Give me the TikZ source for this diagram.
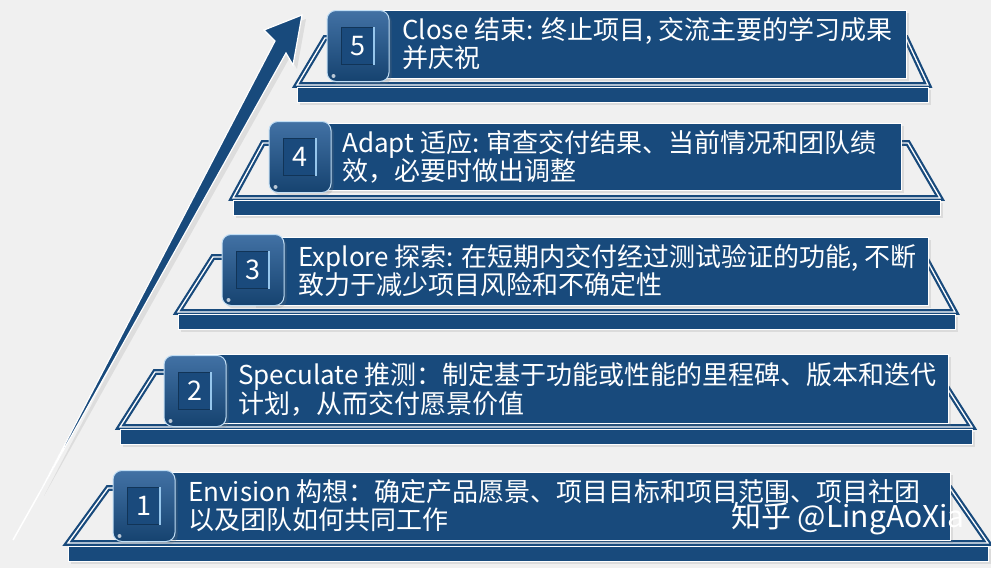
\documentclass[tikz,border=0pt]{standalone}
\usepackage{fontspec}
\setmainfont{Noto Sans CJK SC}
\usetikzlibrary{shadows}
\definecolor{agblue}{RGB}{24,74,124}
\definecolor{agbtn}{RGB}{40,94,152}
\definecolor{agbtnin}{RGB}{26,74,124}
\definecolor{aglight}{RGB}{150,198,236}
\definecolor{agbg}{RGB}{240,240,240}

\begin{document}
\begin{tikzpicture}
    [x=1pt,y=-1pt,
     textbox/.style={rectangle, fill=agblue, draw=white, line width=0.6pt, anchor=north west, inner sep=0pt,
       drop shadow={opacity=0.18}},
     stepbtn/.style={rectangle, rounded corners=9pt, draw=aglight!60!white, line width=1pt,
       top color=agbtn!88!white, bottom color=agblue!90!black, minimum width=62pt, minimum height=71pt, inner sep=0pt,
       drop shadow={opacity=0.2}},
     stepnum/.style={rectangle, fill=agbtnin, draw=agblue!70!black, line width=1pt,
       minimum width=33pt, minimum height=37pt, inner sep=0pt, text=white, font=\fontsize{27}{27}\selectfont},
     steptext/.style={anchor=west, align=left, text=white, inner sep=0pt, font=\fontsize{26}{28}\selectfont},
     framelines/.style={draw=agblue, double=white, double distance=1.3pt, line width=2.2pt, line join=miter},
     basebar/.style={fill=agblue, draw=white, line width=0.8pt, drop shadow={opacity=0.18}}]

    \fill[agbg] (0,0) rectangle (991,568);
    \useasboundingbox (0,0) rectangle (991,568);

    % arrow
    \fill[black, opacity=0.08] (44,496) -- (279,45) -- (268,34) -- (306,19) -- (297,69) -- (290,57) -- cycle;
    \draw[white, line width=1.5pt] (13,540) -- (40,492);
    \filldraw[fill=agblue, draw=white, line width=1.2pt, line join=miter]
      (40,492) -- (275,41) -- (264,30) -- (302,15) -- (293,65) -- (286,53) -- cycle;

    % frames
    \foreach \bl/\ltx/\lty/\rtx/\brx/\fb in {68/108/488/950/988/543, 120/155/372/937/972/427,
      178/213/257/925/955/312, 233/263/143/908/940/198, 297/325/38/906/928/85}
      \draw[framelines] (\bl,\fb) -- (\ltx,\lty) -- (\rtx,\lty) -- (\brx,\fb) -- cycle;

    % bars
    \foreach \bl/\br/\bt in {68/988/546, 120/972/429, 178/955/314, 233/940/200, 297/928/87}
      \draw[basebar] (\bl,\bt) rectangle (\br,\bt+15);

    \node[textbox, minimum width=806pt, minimum height=68pt] (box1) at (144,472) {};
    \node[textbox, minimum width=753pt, minimum height=69pt] (box2) at (195,354) {};
    \node[textbox, minimum width=675pt, minimum height=68pt] (box3) at (253,237) {};
    \node[textbox, minimum width=601pt, minimum height=67pt] (box4) at (300,123) {};
    \node[textbox, minimum width=548pt, minimum height=68pt] (box5) at (358,10) {};

    \node[stepbtn] (btn1) at (144,506) {};
    \node[stepbtn] (btn2) at (195,391) {};
    \node[stepbtn] (btn3) at (253,270) {};
    \node[stepbtn] (btn4) at (300,157) {};
    \node[stepbtn] (btn5) at (358,46) {};

    \foreach \n in {1,...,5}{
      \node[stepnum] (num\n) at (btn\n) {\n};
      \draw[aglight, line width=2pt] ([xshift=-1pt]num\n.north east) -- ([xshift=-1pt]num\n.south east);
      \fill[white, opacity=0.7] ([shift={(7pt,6pt)}]btn\n.south west) circle (2pt);
    }

    \node[steptext] (txt1) at (188,506) {Envision 构想：确定产品愿景、项目目标和项目范围、项目社团\\以及团队如何共同工作};
    \node[steptext] (txt2) at (238,389) {Speculate 推测：制定基于功能或性能的里程碑、版本和迭代\\计划，从而交付愿景价值};
    \node[steptext] (txt3) at (298,271) {Explore 探索: 在短期内交付经过测试验证的功能, 不断\\致力于减少项目风险和不确定性};
    \node[steptext] (txt4) at (342,157) {Adapt 适应: 审查交付结果、当前情况和团队绩\\效，必要时做出调整};
    \node[steptext] (txt5) at (402,44) {Close 结束: 终止项目, 交流主要的学习成果\\并庆祝};

    \node[text=white, font=\fontsize{30}{30}\selectfont] (mark) at (848,519) {知乎 @LingAoXia};
\end{tikzpicture}
\end{document}
